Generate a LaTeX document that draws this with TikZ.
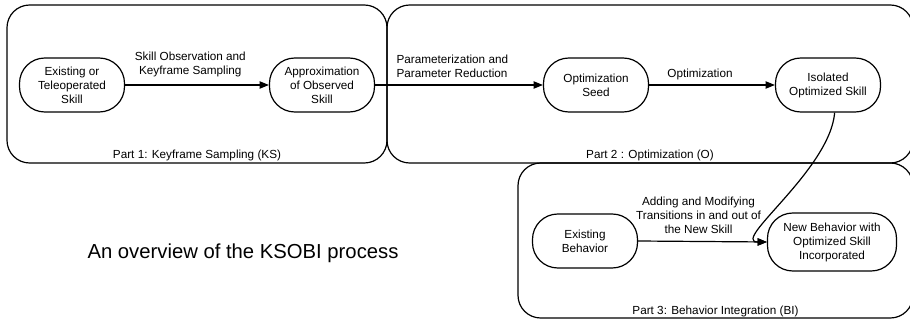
\documentclass[tikz,border=0pt]{standalone}
\usepackage{fontspec}
\setmainfont{Liberation Sans}
\usetikzlibrary{arrows.meta, positioning}
\tikzset{
	partbox/.style={draw, line width=0.9pt, rounded corners=17pt},
	stagebox/.style={draw, line width=0.9pt, rounded corners=19pt, minimum width=78.75pt, minimum height=40.5pt, align=center, inner sep=1pt, font=\fontsize{8.8}{10.5}\selectfont},
	flow/.style={-{Triangle[length=7pt,width=5.5pt]}, line width=0.9pt},
	note/.style={align=center, font=\fontsize{8.8}{10.5}\selectfont}
}
\begin{document}
\begin{tikzpicture}[x=0.75pt, y=-0.75pt]
		\useasboundingbox (0,0) rectangle (910,324);
		
		% Part boxes
		\node[partbox, minimum width=285pt, minimum height=118.5pt] (ks) at (197,84) {};
		\node[note] at ([yshift=6pt]ks.south) {Part 1: Keyframe Sampling (KS)};
		\node[partbox, minimum width=394.5pt, minimum height=118.5pt] (opt) at (650,84) {};
		\node[note] at ([yshift=6pt]opt.south) {Part 2 : Optimization (O)};
		\node[partbox, minimum width=296.25pt, minimum height=116.25pt] (bi) at (715.5,240.5) {};
		\node[note] at ([yshift=5pt]bi.south) {Part 3: Behavior Integration (BI)};
		
		% Stages
		\node[stagebox] (existing) at (72,85) {Existing or\\Teleoperated\\Skill};
		\node[stagebox] (approx) at (322,85) {Approximation\\of Observed\\Skill};
		\node[stagebox] (seed) at (596,85) {Optimization\\Seed};
		\node[stagebox] (isolated) at (828,85) {Isolated\\Optimized Skill};
		\node[stagebox] (behavior) at (585,241) {Existing\\Behavior};
		\node[stagebox, minimum width=96.75pt, minimum height=43.5pt] (newbehavior) at (832,242) {New Behavior with\\Optimized Skill\\Incorporated};
		
		% Title
		\node[font=\fontsize{15.2}{18}\selectfont] (title) at (243,253) {An overview of the KSOBI process};
		
		% Arrows
		\draw[flow] (existing.east) -- (approx.west) node[note, midway, above, xshift=-5pt, yshift=2pt] {Skill Observation and\\Keyframe Sampling};
		\draw[flow] (approx.east) -- (seed.west) node[note, midway, above, align=left, xshift=-5pt, yshift=2pt] {Parameterization and\\Parameter Reduction};
		\draw[flow] (seed.east) -- (isolated.west) node[note, midway, above, xshift=-9pt] {Optimization};
		\draw[flow] (behavior.east) -- (newbehavior.west) node[note, midway, above, xshift=-3pt, yshift=2pt] {Adding and Modifying\\Transitions in and out of\\the New Skill};
		\draw[flow] ([xshift=5pt]isolated.south) .. controls (830,170) and (730,242) .. (newbehavior.west);
	\end{tikzpicture}
\end{document}
